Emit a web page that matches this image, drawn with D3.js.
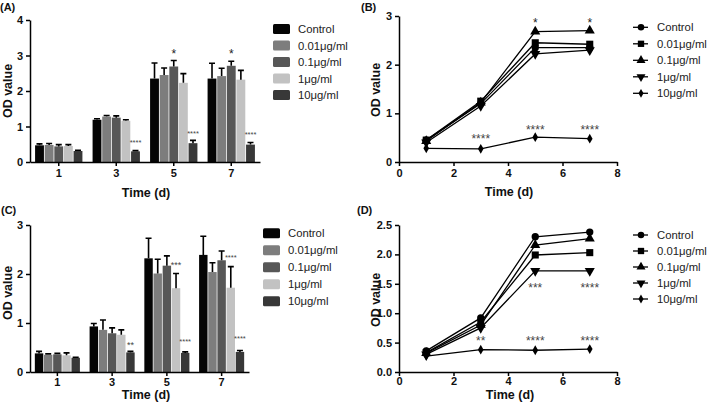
<!DOCTYPE html>
<html>
<head>
<meta charset="utf-8">
<script src="https://cdn.jsdelivr.net/npm/d3@7"></script>
<style>
  body { margin: 0; background: #fff; }
  svg { font-family: 'Liberation Sans', Arial, sans-serif; }
  .axis path, .axis line { stroke: #000; stroke-width: 1.5px; }
  .axis text { font-weight: bold; font-size: 11px; fill: #111; }
  .title { font-weight: bold; font-size: 12.5px; fill: #111; }
  .legend text { font-size: 11.3px; fill: #222; }
</style>
</head>
<body>
<svg width="709" height="407"></svg>
<script>
// categories
var days = [1, 3, 5, 7]
var groups = ['Control', '0.01μg/ml', '0.1μg/ml', '1μg/ml', '10μg/ml']

// panel A: bar means and upper error (one row per group, one column per day)
var meansA = [
  [0.47, 1.19, 2.35, 2.35],
  [0.48, 1.28, 2.45, 2.42],
  [0.44, 1.25, 2.69, 2.71],
  [0.45, 1.16, 2.23, 2.32],
  [0.31, 0.30, 0.53, 0.49]
]
var errA = [
  [0.04, 0.03, 0.44, 0.43],
  [0.04, 0.03, 0.20, 0.22],
  [0.05, 0.05, 0.17, 0.13],
  [0.04, 0.03, 0.26, 0.26],
  [0.02, 0.02, 0.08, 0.06]
]
// panel B: line means
var meansB = [
  [0.45, 1.20, 2.35, 2.35],
  [0.45, 1.25, 2.45, 2.42],
  [0.43, 1.22, 2.68, 2.70],
  [0.40, 1.15, 2.22, 2.30],
  [0.28, 0.27, 0.51, 0.48]
]
// panel C
var meansC = [
  [0.38, 0.93, 2.32, 2.39],
  [0.35, 0.86, 2.01, 2.04],
  [0.36, 0.79, 2.17, 2.28],
  [0.34, 0.76, 1.71, 1.72],
  [0.29, 0.40, 0.39, 0.41]
]
var errC = [
  [0.04, 0.06, 0.41, 0.38],
  [0.02, 0.20, 0.29, 0.19],
  [0.02, 0.11, 0.20, 0.19],
  [0.05, 0.10, 0.30, 0.43],
  [0.01, 0.02, 0.02, 0.03]
]
// panel D
var meansD = [
  [0.36, 0.92, 2.30, 2.38],
  [0.33, 0.85, 1.99, 2.03],
  [0.32, 0.80, 2.16, 2.27],
  [0.30, 0.75, 1.72, 1.72],
  [0.27, 0.38, 0.37, 0.39]
]

// significance marks: [day, group index, y value of mark, text]
var sigA = [[5, 2, 3.12, '*'], [7, 2, 3.12, '*'], [3, 4, 0.60, '****'], [5, 4, 0.84, '****'], [7, 4, 0.82, '****']]
var sigB = [[5, 2, 2.92, '*'], [7, 2, 2.92, '*'], [3, 4, 0.54, '****'], [5, 4, 0.72, '****'], [7, 4, 0.71, '****']]
var sigC = [[3, 4, 0.60, '**'], [5, 3, 2.22, '***'], [7, 3, 2.37, '****'], [5, 4, 0.65, '****'], [7, 4, 0.72, '****']]
var sigD = [[3, 4, 0.58, '**'], [5, 4, 0.58, '****'], [7, 4, 0.58, '****'], [5, 3, 1.48, '***'], [7, 3, 1.48, '****']]

var ticksA = [0, 1, 2, 3, 4]
var ticksB = [0, 1, 2, 3]
var ticksD = [0, 0.5, 1, 1.5, 2, 2.5]
var ticksX = [0, 2, 4, 6, 8]

var barColors = ['#050505', '#7d7d7d', '#575757', '#c2c2c2', '#383838']
var symbols = [d3.symbolCircle, d3.symbolSquare, d3.symbolTriangle, d3.symbolTriangle, d3.symbolDiamond]

var svg = d3.select('svg')

// put a star label so its visual centre sits on y
function starText(g, x, y, txt, small) {
  var fs = txt === '*' ? 12 : small
  g.append('text')
    .attr('x', x)
    .attr('y', y + fs * 0.57)
    .attr('text-anchor', 'middle')
    .style('font-size', fs + 'px')
    .style('fill', txt === '*' ? '#222' : '#444')
    .text(txt)
}

function titles(p) {
  svg.append('text').attr('class', 'title')
    .attr('x', p.label[0]).attr('y', p.label[1])
    .style('font-size', '11px')
    .text(p.name)
  svg.append('text').attr('class', 'title')
    .attr('transform', 'translate(' + p.ylab[0] + ',' + p.ylab[1] + ') rotate(-90)')
    .attr('text-anchor', 'middle')
    .text('OD value')
  svg.append('text').attr('class', 'title')
    .attr('x', p.xlab[0]).attr('y', p.xlab[1])
    .attr('text-anchor', 'middle')
    .text('Time (d)')
}

function barPanel(p) {
  var x = d3.scaleBand().domain(days).range([p.x0, p.x1]).paddingInner(0.15).paddingOuter(0.075)
  var xs = d3.scaleBand().domain(d3.range(groups.length)).range([0, x.bandwidth()]).padding(0.08)
  var y = d3.scaleLinear().domain([0, p.yMax]).range([p.yb, p.yt])

  var g = svg.append('g')
  groups.forEach(function(name, s) {
    var bars = g.selectAll(null).data(days).enter()
    bars.append('rect')
      .attr('x', function(d) { return x(d) + xs(s) })
      .attr('y', function(d, i) { return y(p.means[s][i]) })
      .attr('width', xs.bandwidth())
      .attr('height', function(d, i) { return p.yb - y(p.means[s][i]) })
      .attr('fill', barColors[s])
    // upper error bar
    bars.append('path')
      .attr('d', function(d, i) {
        var cx = x(d) + xs(s) + xs.bandwidth() / 2
        var top = y(p.means[s][i] + p.errs[s][i])
        return 'M' + cx + ',' + y(p.means[s][i]) + 'V' + top + 'M' + (cx - 3) + ',' + top + 'H' + (cx + 3)
      })
      .attr('stroke', '#000')
      .attr('stroke-width', 1.6)
      .attr('fill', 'none')
  })

  p.sig.forEach(function(m) {
    var fs = m[3].length < 4 ? 9 : 7.5
    starText(g, x(m[0]) + xs(m[1]) + xs.bandwidth() / 2, y(m[2]), m[3], fs)
  })

  svg.append('g').attr('class', 'axis')
    .attr('transform', 'translate(0,' + p.yb + ')')
    .call(d3.axisBottom(x).tickSize(4).tickSizeOuter(0).tickPadding(p.pad))
  svg.append('g').attr('class', 'axis')
    .attr('transform', 'translate(' + p.x0 + ',0)')
    .call(d3.axisLeft(y).tickValues(p.ticks).tickSize(4).tickSizeOuter(0).tickPadding(3)
      .tickFormat(d3.format('d')))

  var lg = svg.append('g').attr('class', 'legend')
  groups.forEach(function(name, s) {
    var ly = p.ly + s * p.lstep
    lg.append('rect').attr('x', p.lx).attr('y', ly - 5).attr('width', 17).attr('height', 10)
      .attr('rx', 1.5).attr('fill', barColors[s])
    lg.append('text').attr('x', p.lx + 25).attr('y', ly + 4).text(name)
  })
  titles(p)
}

function marker(g, s, cx, cy, size) {
  g.append('path')
    .attr('d', d3.symbol().type(symbols[s]).size(size)())
    .attr('transform', 'translate(' + cx + ',' + cy + ')' + (s === 3 ? ' rotate(180)' : ''))
    .attr('fill', '#000')
}

var markerSize = [42, 50, 44, 44, 28]

function linePanel(p) {
  var x = d3.scaleLinear().domain([0, 8]).range([p.x0, p.x1])
  var y = d3.scaleLinear().domain([0, p.yMax]).range([p.yb, p.yt])
  var g = svg.append('g')
  var line = d3.line().x(function(d, i) { return x(days[i]) }).y(function(d) { return y(d) })

  groups.forEach(function(name, s) {
    g.append('path').attr('d', line(p.means[s]))
      .attr('fill', 'none').attr('stroke', '#000').attr('stroke-width', 1.3)
  })
  groups.forEach(function(name, s) {
    p.means[s].forEach(function(v, i) {
      marker(g, s, x(days[i]), y(v), markerSize[s])
    })
  })
  p.sig.forEach(function(m) {
    starText(g, x(m[0]), y(m[2]), m[3], 12)
  })

  svg.append('g').attr('class', 'axis')
    .attr('transform', 'translate(0,' + p.yb + ')')
    .call(d3.axisBottom(x).tickValues(ticksX).tickSize(4).tickSizeOuter(0).tickPadding(p.pad))
  svg.append('g').attr('class', 'axis')
    .attr('transform', 'translate(' + p.x0 + ',0)')
    .call(d3.axisLeft(y).tickValues(p.ticks).tickSize(4).tickSizeOuter(0).tickPadding(3)
      .tickFormat(p.fmt))

  var lg = svg.append('g').attr('class', 'legend')
  groups.forEach(function(name, s) {
    var ly = p.ly + s * p.lstep
    lg.append('line').attr('x1', p.lx).attr('x2', p.lx + 15).attr('y1', ly).attr('y2', ly)
      .attr('stroke', '#000').attr('stroke-width', 1.3)
    marker(lg, s, p.lx + 8, ly, markerSize[s] * 0.8)
    lg.append('text').attr('x', p.lx + 24).attr('y', ly + 4).text(name)
  })
  titles(p)
}

barPanel({
  name: '(A)', label: [0, 11], ylab: [12, 91], xlab: [146, 197], pad: 3,
  means: meansA, errs: errA, sig: sigA, yMax: 4, ticks: ticksA,
  x0: 30, x1: 260, yb: 162, yt: 20, lx: 273, ly: 29, lstep: 16.5
})
linePanel({
  name: '(B)', label: [361, 11], ylab: [380, 90], xlab: [509, 196], pad: 3,
  means: meansB, sig: sigB, yMax: 3, ticks: ticksB, fmt: d3.format('d'),
  x0: 399, x1: 617, yb: 162, yt: 16, lx: 633, ly: 27.3, lstep: 16.5
})
barPanel({
  name: '(C)', label: [1, 214], ylab: [12, 293], xlab: [146, 399], pad: 2,
  means: meansC, errs: errC, sig: sigC, yMax: 3, ticks: ticksB,
  x0: 30, x1: 249, yb: 372, yt: 225, lx: 263, ly: 233.3, lstep: 17
})
linePanel({
  name: '(D)', label: [357, 214], ylab: [380, 300], xlab: [510, 399], pad: 1,
  means: meansD, sig: sigD, yMax: 2.5, ticks: ticksD, fmt: d3.format('.1f'),
  x0: 399, x1: 617, yb: 372, yt: 225, lx: 633, ly: 235, lstep: 16
})
</script>
</body>
</html>
